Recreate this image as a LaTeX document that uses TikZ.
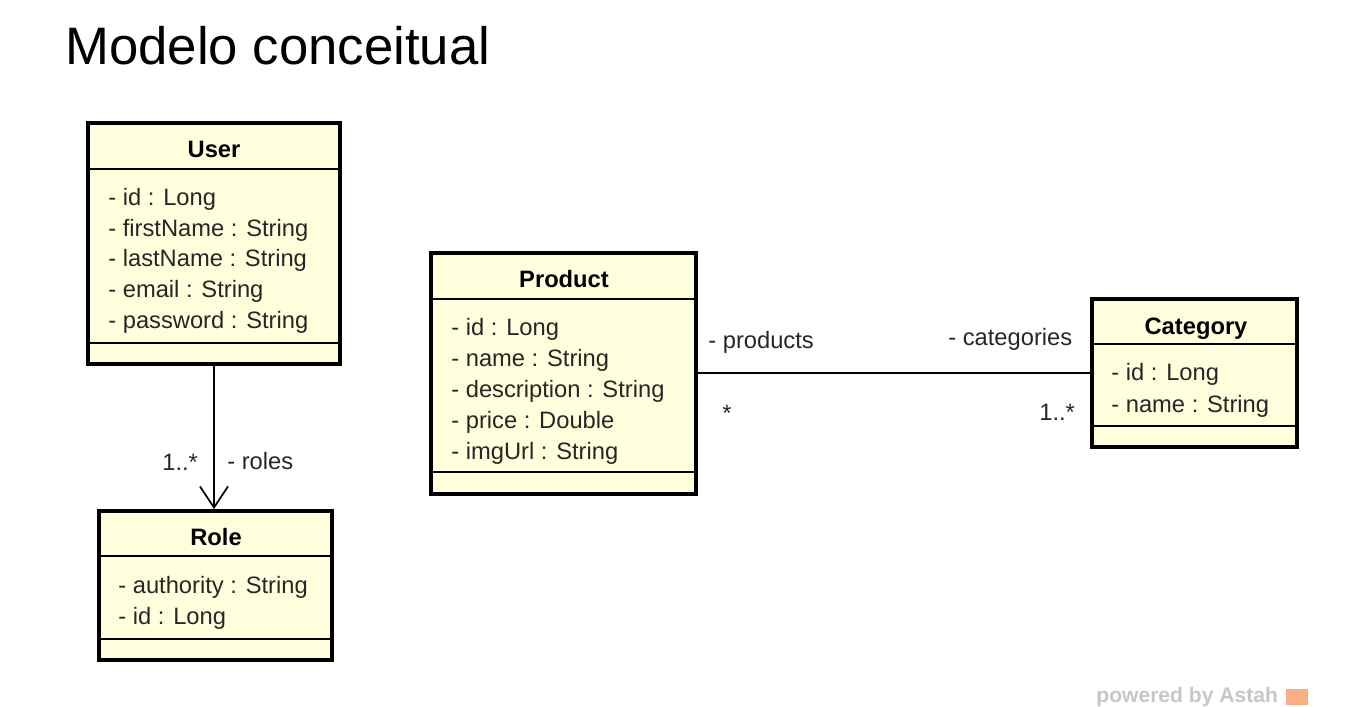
\documentclass[tikz,border=0pt]{standalone}
\usepackage{fontspec}
\setmainfont{Liberation Sans}
\usetikzlibrary{arrows.meta,fit,calc}
\definecolor{classfill}{RGB}{255,255,221}
\definecolor{astahorange}{RGB}{250,175,130}

\begin{document}
\begin{tikzpicture}
[x=0.02cm,y=-0.02cm,
 classbox/.style={draw,line width=2.2pt,fill=classfill,inner sep=0pt},
 sep/.style={line width=1pt},
 cname/.style={font=\fontsize{13.5}{16}\bfseries\selectfont,inner sep=0pt,anchor=base},
 attr/.style={font=\fontsize{13.5}{16}\selectfont,text=black!85,inner sep=0pt,anchor=base west},
 assoc/.style={line width=1pt}]
\useasboundingbox (0,0) rectangle (1354,706);

\node[font=\fontsize{30}{36}\selectfont,inner sep=0pt,anchor=base west] (title) at (65,65) {Modelo conceitual};

% User
\node[classbox,fit={(88,123) (340,364)}] (user) {};
\draw[sep] ($(user.north west)+(0,48)$) -- ($(user.north east)+(0,48)$);
\draw[sep] ($(user.south west)+(0,-23)$) -- ($(user.south east)+(0,-23)$);
\node[cname] (user name) at (214,157) {User};
\node[attr] (user id) at (108,205) {- id : Long};
\node[attr] (user first) at (108,236) {- firstName : String};
\node[attr] (user last) at (108,266) {- lastName : String};
\node[attr] (user email) at (108,297) {- email : String};
\node[attr] (user pass) at (108,328) {- password : String};

% Role
\node[classbox,fit={(99,511) (332,660)}] (role) {};
\draw[sep] ($(role.north west)+(0,47)$) -- ($(role.north east)+(0,47)$);
\draw[sep] ($(role.south west)+(0,-23)$) -- ($(role.south east)+(0,-23)$);
\node[cname] (role name) at (216,545) {Role};
\node[attr] (role auth) at (118,593) {- authority : String};
\node[attr] (role id) at (118,624) {- id : Long};

% Product
\node[classbox,fit={(431,253) (696,494)}] (product) {};
\draw[sep] ($(product.north west)+(0,48)$) -- ($(product.north east)+(0,48)$);
\draw[sep] ($(product.south west)+(0,-24)$) -- ($(product.south east)+(0,-24)$);
\node[cname] (product name) at (564,287) {Product};
\node[attr] (product id) at (451,335) {- id : Long};
\node[attr] (product nm) at (451,366) {- name : String};
\node[attr] (product desc) at (451,397) {- description : String};
\node[attr] (product price) at (451,428) {- price : Double};
\node[attr] (product img) at (451,459) {- imgUrl : String};

% Category
\node[classbox,fit={(1092,299) (1297,447)}] (category) {};
\draw[sep] ($(category.north west)+(0,47)$) -- ($(category.north east)+(0,47)$);
\draw[sep] ($(category.south west)+(0,-23)$) -- ($(category.south east)+(0,-23)$);
\node[cname] (category name) at (1196,334) {Category};
\node[attr] (category id) at (1111,380) {- id : Long};
\node[attr] (category nm) at (1111,412) {- name : String};

% associations
\draw[assoc,-{Straight Barb[length=12pt,width=16pt]}] (user.south) -- (user.south |- role.north);
\node[attr] (roles end) at (227,469) {- roles};
\node[attr] (roles mult) at (162,470) {1..*};

\draw[assoc] (product.east |- category) -- (category.west);
\node[attr] (products end) at (708,348) {- products};
\node[attr] (products mult) at (722,421) {*};
\node[attr] (categories end) at (948,345) {- categories};
\node[attr] (categories mult) at (1039,420) {1..*};

\node[font=\fontsize{12}{14}\bfseries\selectfont,text=black!22,inner sep=0pt,anchor=base west] (astah) at (1096,702) {powered by Astah};
\fill[astahorange] (1286,689) rectangle (1308,705);

\end{tikzpicture}
\end{document}
